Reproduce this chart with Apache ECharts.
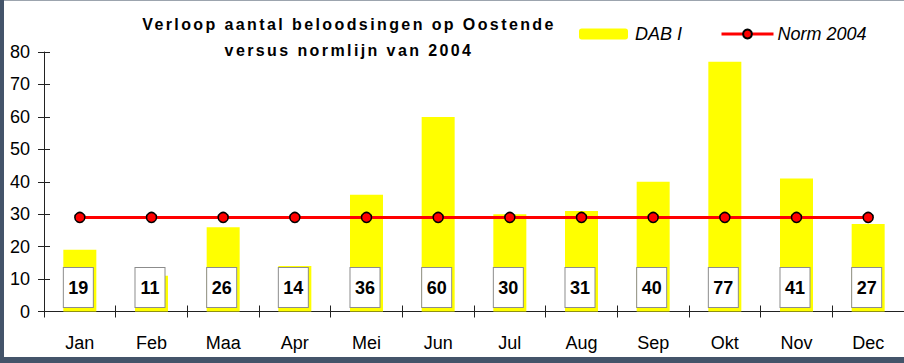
<!DOCTYPE html>
<html>
<head>
<meta charset="utf-8">
<script src="https://cdn.jsdelivr.net/npm/echarts@6/dist/echarts.min.js"></script>
<style>
  html, body { margin: 0; padding: 0; background: #44546a; width: 904px; height: 363px; overflow: hidden; }
  #chart { position: absolute; left: 4px; top: 0; width: 900px; height: 356px; background: #fff; border-top: 1px solid #9ca4ae; }
  /* widely tracked heading */
  #chart svg text.spaced { letter-spacing: 2.4px; }
</style>
</head>
<body>
<div id="chart"></div>
<script>
// Monthly pilotage counts for Oostende against the 2004 norm
const months = ['Jan', 'Feb', 'Maa', 'Apr', 'Mei', 'Jun', 'Jul', 'Aug', 'Sep', 'Okt', 'Nov', 'Dec'];
const dabValues = [19, 11, 26, 14, 36, 60, 30, 31, 40, 77, 41, 27];
const normValues = [29, 29, 29, 29, 29, 29, 29, 29, 29, 29, 29, 29];
const yTicks = { min: 0, max: 80, step: 10 };
const titleLines = ['Verloop aantal beloodsingen op Oostende', 'versus normlijn van 2004'];

const FONT = '"Liberation Sans", Arial, sans-serif';
const axisColor = '#222';

const chart = echarts.init(document.getElementById('chart'), null, { renderer: 'svg' });

const baseY = {
  type: 'value', position: 'left', min: yTicks.min, max: yTicks.max, interval: yTicks.step,
  splitLine: { show: false }
};
const baseX = {
  type: 'category', data: months, position: 'bottom', boundaryGap: true
};

chart.setOption({
  animation: false,
  backgroundColor: '#fff',
  title: {
    text: titleLines.join('\n'),
    left: 340, top: 5, textAlign: 'center',
    textStyle: { fontFamily: FONT, fontSize: 16, fontWeight: 'bold', color: '#000', lineHeight: 26 }
  },
  legend: [
    {
      data: ['DAB I'], left: 575, top: 24, padding: 0, itemWidth: 49, itemHeight: 11, itemGap: 6,
      textStyle: { fontFamily: FONT, fontSize: 18, fontStyle: 'italic', color: '#000', padding: [0, 0, 0, 2] }
    },
    {
      data: ['Norm 2004'], left: 716, top: 24, padding: 0, itemWidth: 52, itemHeight: 11,
      lineStyle: { width: 3 },
      textStyle: { fontFamily: FONT, fontSize: 18, fontStyle: 'italic', color: '#000', padding: [0, 0, 0, -1] }
    }
  ],
  grid: { left: 40, right: -2, top: 51, bottom: 45.5, containLabel: false },
  xAxis: [
    Object.assign({}, baseX, {
      axisLine: { show: true, lineStyle: { color: axisColor, width: 1 } },
      axisTick: { show: true, inside: false, length: 6, lineStyle: { color: axisColor } },
      axisLabel: { fontFamily: FONT, fontSize: 18, color: '#000', margin: 22 }
    }),
    Object.assign({}, baseX, {
      axisLine: { show: false },
      axisTick: { show: true, inside: true, length: 6, lineStyle: { color: axisColor } },
      axisLabel: { show: false }
    })
  ],
  yAxis: [
    Object.assign({}, baseY, {
      axisLine: { show: true, lineStyle: { color: axisColor, width: 1 } },
      axisTick: { show: true, inside: false, length: 6, lineStyle: { color: axisColor } },
      axisLabel: { fontFamily: FONT, fontSize: 18, color: '#000', margin: 14 }
    }),
    Object.assign({}, baseY, {
      axisLine: { show: false },
      axisTick: { show: true, inside: true, length: 6, lineStyle: { color: axisColor } },
      axisLabel: { show: false }
    })
  ],
  series: [
    {
      name: 'DAB I', type: 'bar', data: dabValues, barWidth: 33,
      itemStyle: { color: '#ffff00' },
      label: {
        show: true, position: 'insideBottom', distance: 4.5, offset: [-1.5, 0],
        fontFamily: FONT, fontSize: 18, fontWeight: 'bold', color: '#000',
        backgroundColor: '#fff', borderColor: '#8c8c8c', borderWidth: 1,
        width: 29, align: 'center', lineHeight: 19, padding: [10, 0, 10, 0]
      },
      z: 2
    },
    {
      name: 'Norm 2004', type: 'line', data: normValues,
      symbol: 'circle', symbolSize: 10,
      lineStyle: { color: '#ff0000', width: 3 },
      itemStyle: { color: '#ff0000', borderColor: '#000', borderWidth: 1.5 },
      z: 3
    }
  ]
});

// give the two heading lines their wide tracking
function trackHeading() {
  document.querySelectorAll('#chart svg text').forEach(function (el) {
    if (titleLines.indexOf(el.textContent) !== -1) el.classList.add('spaced');
  });
}
trackHeading();
chart.on('finished', trackHeading);
</script>
</body>
</html>
